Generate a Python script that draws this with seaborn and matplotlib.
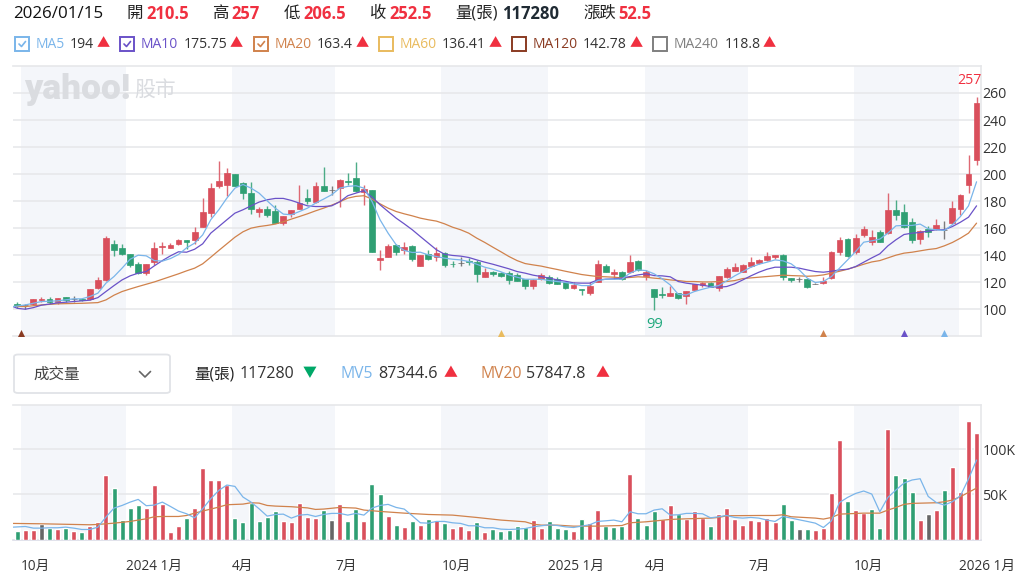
import matplotlib
matplotlib.use("Agg")
import matplotlib.pyplot as plt
import seaborn as sns
import pandas as pd
from matplotlib.patches import Rectangle, FancyBboxPatch
from matplotlib.lines import Line2D

W, H = 1028, 579
FAM = ['Open Sans', 'Noto Sans CJK TC', 'DejaVu Sans']
sns.set_theme(style='white')
plt.rcParams['font.family'] = FAM

# ---------- weekly candles ----------
open_ = [104,103,103.7,106.7,107.7,105.2,108.9,107.5,107.9,107.7,115.8,121.7,148.4,145.2,140.7,133.6,126.7,134.6,146.2,145.4,
         147.9,150.9,150.9,161.2,171.4,191,192,200,193.3,186,172,174,172.6,163.5,170.4,174.3,182,179,191,188.3,
         189.6,195,196.8,186.7,188.4,136.3,139,147.7,144,146.9,132,140.7,138.8,141.7,133.5,134,135.8,135.3,124.2,127.7,
         126.9,126.9,125.2,122.5,117.5,122.5,124.2,122.5,120,116,115,111.9,120.2,132.3,126,127.4,127.9,136,124.7,115,
         111.6,110,111.9,109.9,114.6,117.8,119.3,115.6,124.2,128.6,127.9,132.1,134.3,136.3,139,140.2,123.2,122.2,122.5,119,
         119.3,123,142,151.9,142,154.6,149.4,156.8,156.3,173.6,171.9,164.2,152.1,159.5,159.3,158.8,163.5,174.3,192.1,210.4]
close = [102.5,103,107.4,107.7,105,108.4,106.7,107.5,106.7,115,121.7,152.6,143.7,141,132.8,127,133.3,145.2,147,147.7,
         150.9,149.4,156.8,171.9,190,195,200.7,191.4,185.7,174,173.8,169.4,164,169,173.6,178.5,180.2,190.9,187.7,188.3,
         195.8,193.8,187.2,189.1,142.2,137.8,147,142,146.2,137,140.2,137,141.7,132.8,133.3,134,134.8,126.2,127.7,126,
         124.4,121.7,121.2,117,121.5,125.4,119.3,118.8,115.8,117.8,114,117.5,133.6,127.7,127.9,122.2,135,128.8,127.7,109.4,
         110.4,112.3,108.4,113.8,119,119.5,116.8,124.9,130.1,130.9,132.6,135,136.8,139.3,139.8,124.2,121.7,122.2,116.8,119,
         120.7,142.5,150.9,139.5,152.6,159.3,153.8,149.6,173.6,169.4,160.7,151.1,158,157.3,162.5,158.8,175,184.2,200,252.6]
high = [105,104.2,107.4,109,109,108.6,109,110,108,115,124,154,150.9,148.4,141.2,135,133.3,150,150,149,
        151.9,151,161,182.5,193.3,209.4,204.2,200,193.8,194,175.5,176.5,177,169,173.6,191.9,189,194.3,205.4,191.4,
        196.3,200.7,208.6,191.6,188.4,143.7,148.4,148.1,149.4,147.2,140.5,143.5,146.4,142,135.8,138.5,138,136.5,130.4,128.6,
        127.7,128,126.5,122.5,122.7,126.7,125.2,124.2,120,120.2,115,120.5,136.8,133.6,129.6,128.6,140,136.3,129.2,115,
        116.5,117,112.3,113.8,119,120.5,119.8,124.9,131.1,134,133.8,138.8,137.5,142,139.8,141,123.2,124,122.7,119.5,
        124.2,143,153.3,152.8,155.8,161.7,158.5,158.5,186.2,181,177.8,167.4,158.3,161.7,166.9,165.2,180,185,214,256.8]
low = [101,100,103,105,103.7,104.2,105,105.7,106,106.5,115,121,139.5,140.2,131,126,125.7,132.6,141.2,145.2,
       147.2,144.7,148.4,161.2,168.6,189.6,183.5,191,181.2,170.4,168.6,168.6,163.5,162.2,168.6,174.3,177.5,178.5,187.4,184.4,
       176,192,187,177,142,129.4,138.5,139.8,141,136,132,136.3,136,131.1,131.1,132,133,120.2,123.7,124.7,
       123.7,118.8,121,115,115.3,122,118.8,118.5,115,115,110.4,110.9,120,127.4,122.2,122,126.7,128.5,122,99.5,
       108.6,109.6,107.4,103.7,114.4,116.3,116.3,113.8,123,128.4,127.7,131.6,133.3,135.8,137.3,121.7,120,120.2,116,118.7,
       118.8,122.5,139.8,139,141,153.8,147.2,149.4,155.6,166.2,160.2,149.1,148.6,153.8,158.8,152.1,162.7,169.6,186.2,206.9]

# ---------- weekly volume, in thousands of lots; direction of each volume bar ----------
volume = [9.2,10.4,10.4,17,12.2,11.8,12.6,9.2,7.8,14.4,19.2,71.8,56.6,21.8,34.4,37.7,34.4,60.7,39.2,7.8,
          15.5,23.3,34.4,79.6,65.5,65.5,60,23.3,19.2,40.3,20.7,24.8,31.8,20.7,19.2,40.7,24.4,23.3,32.9,21.8,
          39.2,20.4,34,20.4,61.4,50.3,26.3,16.3,14,20.4,16.3,22.6,21.5,17.8,13,15.2,10.4,18.9,7.8,11.5,
          8.9,10,15.2,14,21.5,13,20.4,13,11.5,8.9,22.6,17.8,33,15.2,14,15.2,72.5,24,16.6,31.5,
          22.6,37.7,27.7,22.6,31.5,24,15.2,27.7,35.2,22.6,16.3,21.5,20.4,24,18.9,38.9,21.5,11.5,11.5,10.4,
          13,51.4,110.3,42.9,33,28.9,34,13,122.5,71.4,67.7,52.9,21.5,27.7,33,55.1,80.3,52.9,131.4,117.7]
vol_dir = list("grrkgrgrgrrrggggrrrr"
               "rgrrrrrggggggrrrrrgk"
               "rggrggrgrgrgrgrrrgrg"
               "ggggrrgggrgrrgggrggg"
               "rrgrrrgrrrrrrrrggkgr"
               "rrrgrrggrgggrkrgrrrr")

# ---------- moving averages ----------
ma5_w = [-0.5, 1, 3, 5, 7] + list(range(8, 120))
ma5 = [102,103.2,105.7,106.2,107.7,
       107.7,109.4,111.9,119.3,124.2,130.4,137,140,139.5,136,135.6,137.5,140.5,145.4,148.9,155,166.2,173.6,182.2,189.6,192.3,189.6,185.9,180.2,174.8,170.4,169.9,172.3,174.8,178.5,181.5,184.7,189.6,
       190.9,191.4,189.6,179.8,166.2,156.3,147.7,143.5,142,142.2,140.2,139,137.8,137,136.5,135.3,133.3,131.1,129.6,127.7,125.4,123.7,122.2,122.2,122.2,121.2,120.5,119.8,118.8,117.5,117.5,121.2,122.2,122.2,122.2,126.7,129.1,128.6,126.2,122.5,118,
       111,110.6,113.1,114.8,116.3,117.5,121,124.7,127.9,131.1,133.3,134.8,136.5,135.8,133.6,129.1,123,119.8,120.5,124.2,130.4,136.5,142.7,149.6,150.6,151.9,156.3,161.7,162,162,163,159.5,158.8,158.3,162.5,168.6,176.5,194.3]
ma10_w = [-0.5, 0, 1, 2, 3, 5, 7, 9] + list(range(10, 120))
ma10 = [102,100.7,100,101.2,103,104.7,105.7,106.7,
        108.6,113.1,117.5,121.7,124.7,126.7,127.9,132.1,136,139.5,142.5,142.2,144.4,148.4,156.3,161.2,166.2,171.1,173.6,176.5,179.3,181,182,182,180.5,178.5,176.5,176,176,176.5,179.5,
        184,185.9,187.7,183,177.3,172.3,167.4,163.2,158.8,153.8,148.9,144,140.7,139.8,139.3,138.3,136.5,134.8,133.3,131.6,129.9,127.9,126.7,125.2,124.2,123,121.7,120.7,119.5,119.3,119.3,121.7,122.2,122.5,123,124.2,125.4,126.2,124.9,124.7,124,
        120.5,119.3,118.5,117.8,116.8,116.3,116.8,118.8,121.7,124.7,127.4,129.6,131.1,131.1,131.1,130.4,129.1,127.9,127.4,128.1,129.1,129.6,131.6,134.8,138,141,146.9,151.4,155.3,156.3,156.8,157.8,158.8,158.8,161.2,164.4,168.1,176.5]
ma20_w = [-0.5, 1, 3, 5, 8] + list(range(10, 120))
ma20 = [102,102,103.2,104,104.4,
        104.9,106.9,110.4,113.1,115,116.8,118.5,120.2,122.2,124.2,126.2,128.4,130.4,133.6,138.5,143.5,148.4,153.3,157.3,160,161.2,162,163,164.7,166.7,168.6,170.6,172.8,174.8,177,179.5,
        182.2,183.5,184,181.5,178,174.8,172.3,170.6,169.1,167.4,166.2,165.2,163.2,160.7,158.8,156.3,152.6,149.4,145.9,142.5,139,136,133.8,132.8,131.9,130.6,129.4,128.1,126.9,125.7,124.9,124.2,124,123.7,123.2,123.5,124,123.7,123,122.5,121.7,
        121.2,120.5,120.5,120.2,120.2,120.5,120.5,121.2,122.7,123.2,123.7,124.2,124.7,125.2,124.9,124.7,124.4,124.7,125.4,126.7,128.1,129.6,131.4,133.3,135,136,138,140,141.5,142.2,143.2,144.2,144.9,146.9,149.4,152.6,156.3,163.7]
mv5_w = [-0.5] + list(range(1, 120))
mv5 = [13.7,14.4,12.6,12.6,13,13,13.7,12.6,11.1,11.1,13.7,24.8,34.8,37.7,41.4,44.4,37.4,38.1,41.4,36.6,31.5,28.5,24,34,45.1,54.4,60.3,58.8,47,41.4,34,25.9,27.7,28.1,23.7,27,27.7,25.5,27.7,28.9,28.9,
       27,28.9,27,34.8,37.7,38.9,35.5,33.7,26.3,18.5,18.1,20,20,18.5,17.8,15.2,15.2,13,13,11.5,11.1,11.5,12.2,14,15.2,16.3,15.5,14,13.3,14.8,16.3,20,20.7,21.5,19.6,30.7,28.5,28.5,32.6,34,27,27.4,
       28.9,28.9,28.5,24,25.2,26.6,24.4,23.7,24.4,23.7,21.5,20,25.5,23.7,21.8,20,18.1,13.3,20.7,41,46.6,51,53.7,50.3,30.7,46.6,54.8,62.5,65.9,67.3,47.7,41,38.1,41.8,48.5,67,88]
mv20_w = [-0.5,3,9,10,11,12,14,15,16,17,18,20,21,22,23,24,25,26,28,29,30,31,32,34,36,37,38,40,
          42,43,45,48,51,54,57,60,63,64,65,67,69,72,75,76,78,81,82,
          83,86,87,88,92,94,95,96,99,100,101,102,105,107,108,109,110,111,114,115,116,117,118,119]
mv20 = [17.8,17.4,16.3,16.7,17.4,18.1,20,21.5,22.9,25.2,25.5,25.5,26.6,29.2,31.5,33.7,35.9,38.5,39.2,40.7,40.3,37.7,37,36.3,35,33.3,33.7,35.5,
        34.8,32.6,31.1,29.2,27.7,27,24.4,21.5,19.6,17,15.9,15.9,14.8,14.8,15.5,18.5,19.6,22.2,22.6,
        22.9,23.7,24.4,26.3,26.6,26.6,27.4,25.2,23.7,22.6,24.4,28.1,29.2,29.2,32.6,35.5,38.9,40,40.7,41.8,43.7,47.4,52.2,57]

# ---------- labels ----------
tick_w = [0.45, 13.5, 26.6, 39.4, 52.6, 65.85, 77.9, 90.7, 103.8, 116.8]
tick_labels = ['10月', '2024 1月', '4月', '7月', '10月', '2025 1月', '4月', '7月', '10月', '2026 1月']
cross_w = [0.42, 60, 100, 110, 115]
cross_names = ['MA120', 'MA60', 'MA20', 'MA10', 'MA5']

RED, GREEN, GRAY = '#d94f5c', '#2f9f73', '#666666'
GRID, DARK = '#e6e7ea', '#333333'
BAND = '#f4f6fa'
COL = {'MA5': '#7ab5ea', 'MA10': '#6a52c8', 'MA20': '#d0824c', 'MA60': '#e9bb5e',
       'MA120': '#8a3b22', 'MA240': '#7f7f7f'}
BRIGHT_RED, BRIGHT_GREEN = '#f03040', '#00a868'

fig = plt.figure(figsize=(W / 100, H / 100), dpi=100, facecolor='white')


def put(x, y, s, size=10.5, color='#222222', weight='normal', ha='left', **kw):
    return fig.text(x / W, 1 - y / H, s, fontsize=size, color=color, weight=weight,
                    ha=ha, va='center', family=FAM, **kw)


def make_axes(left, top, right, bottom):
    ax = fig.add_axes([left / W, 1 - bottom / H, (right - left) / W, (bottom - top) / H])
    ax.set_facecolor('white')
    for side in ('left',):
        ax.spines[side].set_visible(False)
    for side in ('top', 'right', 'bottom'):
        ax.spines[side].set_color(GRID)
        ax.spines[side].set_linewidth(1.2)
    ax.yaxis.tick_right()
    ax.set_axisbelow(True)
    ax.grid(axis='y', color=GRID, lw=1.1)
    ax.grid(axis='x', visible=False)
    ax.tick_params(axis='both', length=0, labelsize=10.2, labelcolor=DARK, pad=1)
    for lo, hi in zip(tick_w[0::2], tick_w[1::2]):
        ax.axvspan(lo, hi, color=BAND, lw=0, zorder=0)
    return ax


# ---------- price panel ----------
ax = make_axes(13, 66.5, 981, 336)
weeks = list(range(len(close)))
colors = [GRAY if c == o else (RED if c > o else GREEN) for o, c in zip(open_, close)]
ax.vlines(weeks, low, high, colors=colors, lw=1.0, alpha=0.85, zorder=3)
ax.bar(weeks, [abs(c - o) for o, c in zip(open_, close)], bottom=[min(o, c) for o, c in zip(open_, close)],
       width=0.72, color=colors, edgecolor=colors, linewidth=0.5, zorder=3)
for xs, ys, name in ((ma20_w, ma20, 'MA20'), (ma10_w, ma10, 'MA10'), (ma5_w, ma5, 'MA5')):
    sns.lineplot(x=xs, y=ys, color=COL[name], lw=0.9, ax=ax, estimator=None, sort=False, zorder=4)
ax.set_xlim(-0.53, 119.55)
ax.set_ylim(80.2, 279.6)
ax.set_yticks(range(100, 261, 20))
ax.set_xticks([])
ax.set_xlabel('')
ax.set_ylabel('')
for w, name in zip(cross_w, cross_names):
    ax.scatter([w], [81.8], marker='^', s=42, color=COL[name], lw=0, zorder=5, clip_on=True)

# watermark sits under the grid
tr = fig.transFigure
ax.text(24 / W, 1 - 90 / H, 'yahoo!', transform=tr, fontsize=25.5, family=['Roboto', 'DejaVu Sans'], weight='black',
        color='#dadce0', va='center', ha='left', zorder=1)
ax.text(134 / W, 1 - 90 / H, '股市', transform=tr, fontsize=15, family=FAM, color='#dadce0',
        va='center', ha='left', zorder=1)

put(969, 80, '257', size=10.2, color=BRIGHT_RED, ha='center')
put(654.5, 324, '99', size=10.6, color='#1ea87c', ha='center')

# ---------- volume panel ----------
vx = make_axes(13, 404.5, 981, 539.5)
frame = pd.DataFrame({'week': weeks, 'volume': volume, 'dir': vol_dir})
sns.barplot(data=frame, x='week', y='volume', hue='dir', palette={'r': RED, 'g': GREEN, 'k': GRAY},
            dodge=False, native_scale=True, saturation=1, legend=False, errorbar=None, ax=vx, zorder=3)
for bar in vx.patches:
    if bar.get_height() > 0 and bar.get_width() < 2:
        centre = bar.get_x() + bar.get_width() / 2
        bar.set_width(0.62)
        bar.set_x(centre - 0.31)
sns.lineplot(x=mv20_w, y=mv20, color=COL['MA20'], lw=0.9, ax=vx, estimator=None, sort=False, zorder=4)
sns.lineplot(x=mv5_w, y=mv5, color=COL['MA5'], lw=0.9, ax=vx, estimator=None, sort=False, zorder=5)
vx.set_xlim(-0.53, 119.55)
vx.set_ylim(0, 149.5)
vx.set_yticks([50, 100])
vx.set_yticklabels(['50K', '100K'])
vx.set_xticks(tick_w)
vx.set_xticklabels(tick_labels, ha='left')
vx.tick_params(axis='x', pad=14, labelsize=9.8)
vx.set_xlabel('')
vx.set_ylabel('')
vx.spines['bottom'].set_color('#dcdde8')

# ---------- header row ----------
head_labels = ['開', '高', '低', '收', '量(張)', '漲跌']
head_lx = [126, 212, 284, 369, 455, 583]
head_vals = ['210.5', '257', '206.5', '252.5', '117280', '52.5']
head_vx = [146, 231, 303, 389, 502, 618]
head_col = [BRIGHT_RED, BRIGHT_RED, BRIGHT_RED, BRIGHT_RED, '#1f2a33', BRIGHT_RED]
put(13, 14, '2026/01/15', size=12.2, color='#111111')
for s, lx, v, vpx, c in zip(head_labels, head_lx, head_vals, head_vx, head_col):
    put(lx, 14, s, size=11.8, color='#222222')
    put(vpx, 14, v, size=12, color=c, weight='bold')

# ---------- MA legend row ----------
leg_names = ['MA5', 'MA10', 'MA20', 'MA60', 'MA120', 'MA240']
leg_vals = ['194', '175.75', '163.4', '136.41', '142.78', '118.8']
leg_checked = [True, True, True, False, False, False]
box_x = [15, 120, 254, 379, 512, 653]
name_x = [36, 141, 275, 400, 533, 674]
val_x = [70, 184, 317, 442, 583, 725]
tri_x = [103, 236.5, 362, 495, 636, 769]
for n, v, chk, bx, nx, vpx, tx in zip(leg_names, leg_vals, leg_checked, box_x, name_x, val_x, tri_x):
    c = COL[n]
    fig.add_artist(Rectangle((bx / W, 1 - 51 / H), 14 / W, 14 / H, transform=tr, fc='white', ec=c, lw=1.4))
    if chk:
        fig.add_artist(Line2D([(bx + 4) / W, (bx + 6.5) / W, (bx + 10.5) / W],
                              [1 - 44 / H, 1 - 46.5 / H, 1 - 41.5 / H], transform=tr, color=c, lw=1.2))
    put(nx, 44, n, size=10, color=c)
    put(vpx, 44, v, size=10.1, color='#333333')
    put(tx, 43.5, '▲', size=9.5, color=BRIGHT_RED, ha='center')

# ---------- volume control row ----------
fig.add_artist(FancyBboxPatch((14 / W, 1 - 393 / H), 156 / W, 38.5 / H, transform=tr,
                              boxstyle='round,pad=0,rounding_size=0.004', fc='white', ec='#e1e3e7', lw=1.3,
                              mutation_aspect=1))
put(33, 375, '成交量', size=11.2, color='#444444')
fig.add_artist(Line2D([139.5 / W, 145 / W, 150.5 / W], [1 - 371.5 / H, 1 - 377 / H, 1 - 371.5 / H],
                      transform=tr, color='#666666', lw=1.2))
put(194, 374.5, '量(張)', size=11.2, color='#222222')
put(240, 374.5, '117280', size=11.5, color='#333333')
put(309.5, 374, '▼', size=10, color=BRIGHT_GREEN, ha='center')
put(340, 374.5, 'MV5', size=11.3, color=COL['MA5'])
put(378, 374.5, '87344.6', size=11.6, color='#333333')
put(451, 374, '▲', size=10, color=BRIGHT_RED, ha='center')
put(481, 374.5, 'MV20', size=11.3, color=COL['MA20'])
put(526, 374.5, '57847.8', size=11.6, color='#333333')
put(603, 374, '▲', size=10, color=BRIGHT_RED, ha='center')

fig.savefig('out.png', dpi=100, facecolor='white')
